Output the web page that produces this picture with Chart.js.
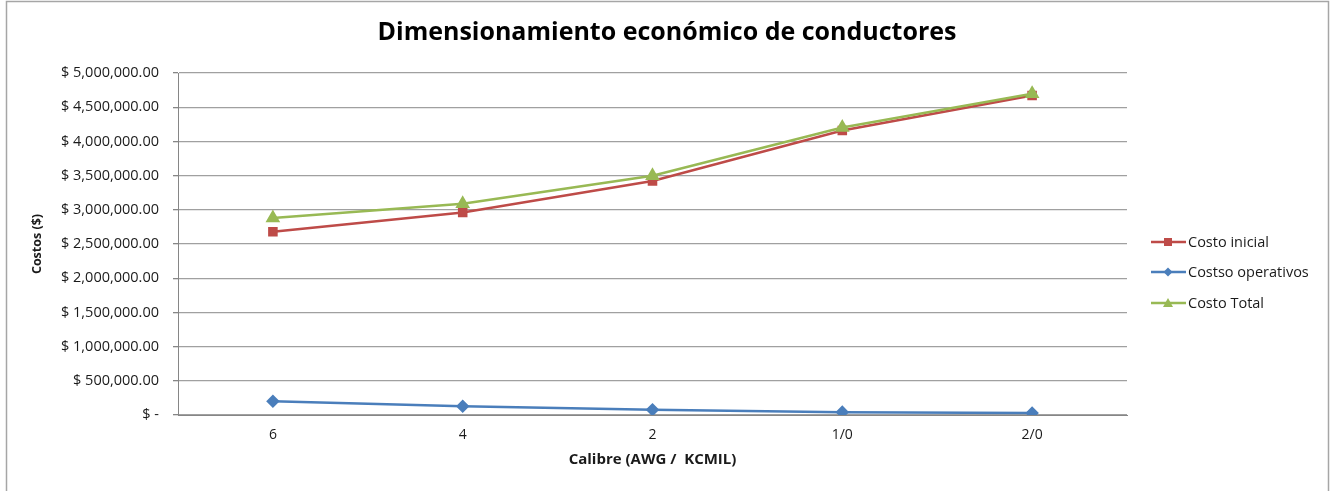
<!DOCTYPE html>
<html><head><meta charset="utf-8">
<script src="https://cdn.jsdelivr.net/npm/chart.js@4/dist/chart.umd.min.js"></script>
<style>html,body{margin:0;padding:0;background:#fff;overflow:hidden}canvas{display:block}</style>
</head><body>
<canvas id="c" width="1335" height="491"></canvas>
<script>
const categories = ["6", "4", "2", "1/0", "2/0"];
const costoInicial = [2680000, 2960000, 3420000, 4160000, 4670000];
const costosOperativos = [200000, 127000, 77000, 42000, 28000];
const costoTotal = [2880000, 3087000, 3497000, 4202000, 4698000];
const seriesNames = ["Costo inicial", "Costso operativos", "Costo Total"];
const yTicks = [0, 500000, 1000000, 1500000, 2000000, 2500000, 3000000, 3500000, 4000000, 4500000, 5000000];

const FONT = "'Open Sans', 'Liberation Sans', sans-serif";

function fmt(v){
  if (v === 0) return "$ -";
  return "$ " + v.toLocaleString("en-US", {minimumFractionDigits:2, maximumFractionDigits:2});
}

const L = 178, R = 1127, T = 73, B = 415;
const PADL = 30, PADB = 22;

const frame = {
  id: "frame",
  afterDraw(chart){
    const ctx = chart.ctx;
    ctx.save();
    ctx.strokeStyle = "#a6a6a6";
    ctx.lineWidth = 1.5;
    ctx.strokeRect(6.5, 1.5, 1322, 500);
    // title
    ctx.fillStyle = "#000";
    ctx.font = "bold 25px " + FONT;
    ctx.textAlign = "center";
    ctx.textBaseline = "middle";
    ctx.fillText("Dimensionamiento económico de conductores", 667, 33);
    // legend
    const items = chart.data.datasets;
    const ys = [242, 272, 303];
    ctx.font = "14.5px " + FONT;
    ctx.textAlign = "left";
    items.forEach((ds, i) => {
      const y = ys[i];
      ctx.strokeStyle = ds.borderColor;
      ctx.lineWidth = 2.5;
      ctx.beginPath(); ctx.moveTo(1151, y); ctx.lineTo(1186, y); ctx.stroke();
      ctx.fillStyle = ds.borderColor;
      const cx = 1168;
      ctx.beginPath();
      if (ds.pointStyle === "rect") { ctx.rect(cx-4, y-4, 8, 8); }
      else if (ds.pointStyle === "rectRot") { ctx.moveTo(cx, y-4.5); ctx.lineTo(cx+4.5, y); ctx.lineTo(cx, y+4.5); ctx.lineTo(cx-4.5, y); ctx.closePath(); }
      else { ctx.moveTo(cx, y-5); ctx.lineTo(cx+5, y+4); ctx.lineTo(cx-5, y+4); ctx.closePath(); }
      ctx.fill();
      ctx.fillStyle = "#1a1a1a";
      ctx.fillText(ds.label, 1188, y + 1);
    });
    ctx.restore();
  }
};

new Chart(document.getElementById("c"), {
  type: "line",
  data: {
    labels: categories,
    datasets: [
      {label: seriesNames[0], data: costoInicial, borderColor: "#be4b48", backgroundColor: "#be4b48", pointStyle: "rect", pointRadius: 5, borderWidth: 2.5, order: 2},
      {label: seriesNames[1], data: costosOperativos, borderColor: "#4a7ebb", backgroundColor: "#4a7ebb", pointStyle: "rectRot", pointRadius: 5, borderWidth: 2.5, order: 3},
      {label: seriesNames[2], data: costoTotal, borderColor: "#98b954", backgroundColor: "#98b954", pointStyle: "triangle", pointRadius: 6, borderWidth: 2.5, order: 1}
    ]
  },
  options: {
    responsive: false,
    animation: false,
    devicePixelRatio: 1,
    layout: {padding: {left: PADL, top: T, right: 1335 - R, bottom: PADB}},
    plugins: {legend: {display: false}, title: {display: false}, tooltip: {enabled: false}},
    elements: {line: {tension: 0}},
    scales: {
      x: {
        offset: true,
        grid: {display: false, drawTicks: false},
        border: {color: "#868686", width: 1},
        ticks: {color: "#1a1a1a", font: {family: FONT, size: 14}, padding: 12, maxRotation: 0},
        title: {display: true, text: "Calibre (AWG /  KCMIL)", color: "#1a1a1a", font: {family: FONT, size: 15, weight: "bold"}, padding: {top: 2, bottom: 0}},
        afterFit(s){ s.height = 491 - B - PADB; }
      },
      y: {
        min: 0, max: 5000000,
        afterBuildTicks(s){ s.ticks = yTicks.map(v => ({value: v})); },
        grid: {color: "#a0a0a0", lineWidth: 1.3, tickLength: 5, tickColor: "#868686"},
        border: {color: "#868686", width: 1},
        ticks: {color: "#1a1a1a", font: {family: FONT, size: 14.5}, padding: 14, callback: v => fmt(v)},
        title: {display: true, text: "Costos ($)", color: "#1a1a1a", font: {family: FONT, size: 12.5, weight: "bold"}, padding: {top: 0, bottom: 0}},
        afterFit(s){ s.width = L - PADL; }
      }
    }
  },
  plugins: [frame]
});
</script>
</body></html>
